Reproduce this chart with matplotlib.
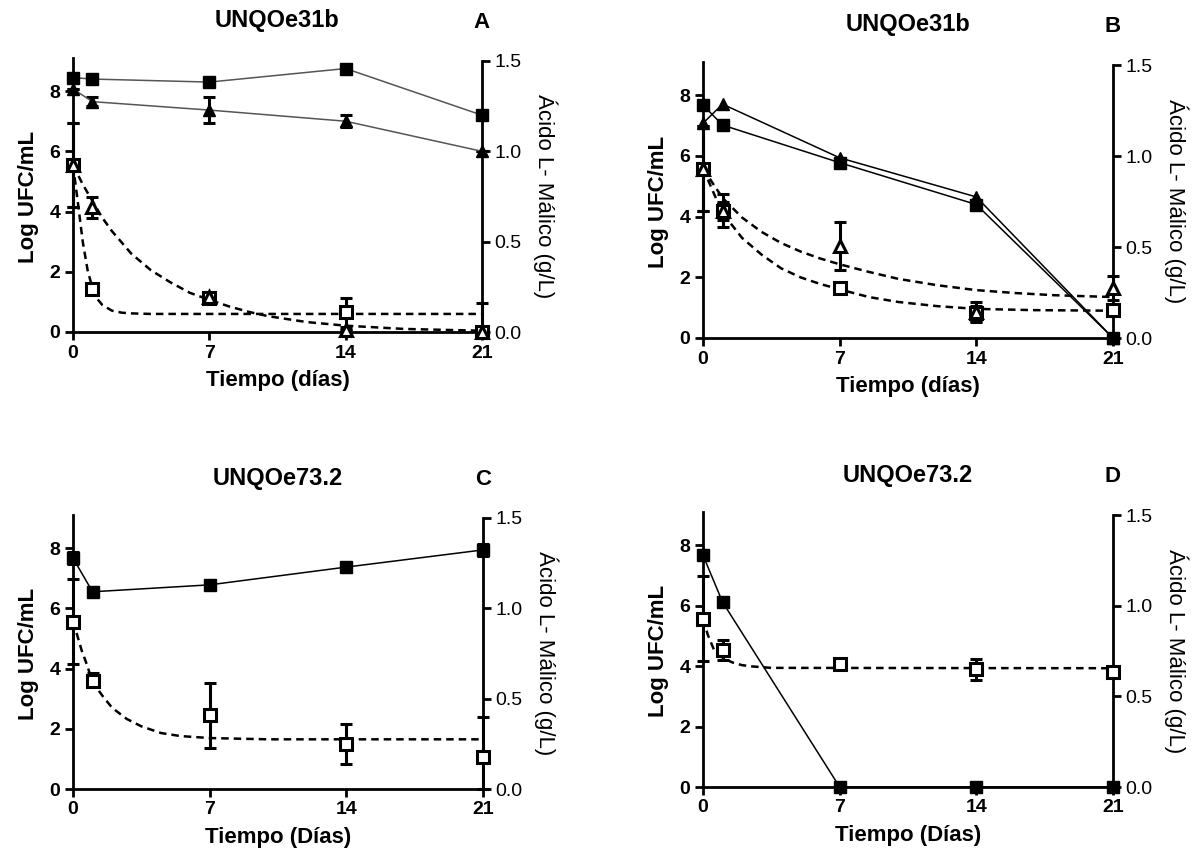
import matplotlib
matplotlib.use("Agg")
import matplotlib.pyplot as plt

plt.rcParams['font.family'] = ['Liberation Sans', 'DejaVu Sans']

days = [0, 1, 7, 14, 21]

# Panel A (UNQOe31b) - filled: Log UFC/mL, open: acido L-malico (g/L)
a_sq_ufc = [8.45, 8.4, 8.3, 8.75, 7.2]
a_sq_ufc_err = [0, 0, 0, 0.12, 0]
a_tri_ufc = [8.07, 7.65, 7.37, 7.0, 6.0]
a_tri_ufc_err = [0, 0.15, 0.42, 0.2, 0]
a_sq_mal = [0.925, 0.24, 0.19, 0.11, 0.0]
a_sq_mal_lo = [0.233, 0, 0.01, 0.08, 0]
a_sq_mal_hi = [0.233, 0, 0.01, 0.08, 0.16]
a_tri_mal = [0.925, 0.69, 0.196, 0.012, 0.0]
a_tri_mal_err = [0.233, 0.06, 0.01, 0, 0]
a_fit_sq_t = [0, 0.25, 0.5, 0.75, 1, 1.25, 1.5, 2, 2.5, 3, 4, 21]
a_fit_sq = [0.925, 0.717, 0.5, 0.342, 0.242, 0.183, 0.15, 0.118, 0.107, 0.103, 0.1, 0.1]
a_fit_tri_t = [0, 0.5, 1, 1.5, 2, 3, 4, 5, 6, 7, 8, 9, 10, 12, 14, 17, 21]
a_fit_tri = [0.925, 0.817, 0.725, 0.633, 0.558, 0.433, 0.342, 0.275, 0.217, 0.178,
             0.142, 0.112, 0.088, 0.055, 0.035, 0.017, 0.007]

# Panel B (UNQOe31b)
b_sq_ufc = [7.68, 7.02, 5.78, 4.4, 0.0]
b_tri_ufc = [7.08, 7.71, 5.94, 4.65, 0.0]
b_sq_mal = [0.93, 0.70, 0.275, 0.135, 0.152]
b_sq_mal_err = [0.233, 0.05, 0, 0.04, 0.02]
b_tri_mal = [0.93, 0.70, 0.505, 0.145, 0.275]
b_tri_mal_err = [0.233, 0.092, 0.13, 0.055, 0.068]
b_fit_tri_t = [0, 0.5, 1, 2, 3, 4, 5, 6, 7, 8.5, 10, 12, 14, 16, 18, 21]
b_fit_tri = [0.933, 0.85, 0.77, 0.662, 0.583, 0.522, 0.475, 0.437, 0.405, 0.363,
             0.325, 0.29, 0.263, 0.247, 0.235, 0.225]
b_fit_sq_t = [0, 0.5, 1, 2, 3, 4, 5, 6, 7, 8.5, 10, 12, 14, 17, 21]
b_fit_sq = [0.933, 0.808, 0.687, 0.55, 0.458, 0.383, 0.333, 0.297, 0.267, 0.225,
            0.198, 0.175, 0.16, 0.153, 0.15]

# Panel C (UNQOe73.2)
c_sq_ufc = [7.67, 6.55, 6.78, 7.37, 7.94]
c_sq_ufc_err = [0.2, 0.15, 0.15, 0.15, 0.2]
c_sq_mal = [0.927, 0.6, 0.407, 0.248, 0.178]
c_sq_mal_lo = [0.233, 0.03, 0.178, 0.11, 0.178]
c_sq_mal_hi = [0.233, 0.04, 0.178, 0.11, 0.222]
c_fit_t = [0, 0.2, 0.45, 0.7, 1, 1.5, 2, 2.75, 3.5, 4.5, 5.5, 7, 10, 21]
c_fit = [0.93, 0.857, 0.765, 0.692, 0.593, 0.517, 0.45, 0.388, 0.347, 0.31,
         0.293, 0.282, 0.275, 0.275]

# Panel D (UNQOe73.2)
d_sq_ufc = [7.67, 6.12, 0.0, 0.0, 0.0]
d_sq_mal = [0.928, 0.753, 0.677, 0.648, 0.632]
d_sq_mal_err = [0.233, 0.055, 0.02, 0.058, 0.01]
d_fit_t = [0, 0.25, 0.6, 1, 1.5, 2, 2.5, 3.5, 21]
d_fit = [0.928, 0.838, 0.747, 0.713, 0.687, 0.672, 0.665, 0.657, 0.655]

titles = ['UNQOe31b', 'UNQOe31b', 'UNQOe73.2', 'UNQOe73.2']
letters = ['A', 'B', 'C', 'D']
xlabels = ['Tiempo (días)', 'Tiempo (días)', 'Tiempo (Días)', 'Tiempo (Días)']

W, H = 1203, 856
fig = plt.figure(figsize=(W / 100, H / 100), dpi=100)

# axes boxes in pixels: left, right, top, bottom
boxes = [(73, 482, 61, 332), (703, 1113, 65, 338),
         (73, 483, 518, 789), (703, 1113, 515, 787)]


def make_axes(box, title, letter, xlabel):
    l, r, t, b = box
    ax = fig.add_axes([l / W, 1 - b / H, (r - l) / W, (b - t) / H])
    ax2 = ax.twinx()
    ax.set_xlim(0, 21)
    ax.set_ylim(0, 9)
    ax2.set_ylim(0, 1.5)
    ax.set_xticks([0, 7, 14, 21])
    ax.set_yticks([0, 2, 4, 6, 8])
    ax2.set_yticks([0, 0.5, 1.0, 1.5])
    ax2.set_yticklabels(['0.0', '0.5', '1.0', '1.5'])
    for s in ['top', 'right']:
        ax.spines[s].set_visible(False)
    for s in ['top', 'left', 'bottom']:
        ax2.spines[s].set_visible(False)
    ax.spines['left'].set_linewidth(2)
    ax.spines['bottom'].set_linewidth(2)
    ax2.spines['right'].set_linewidth(2)
    ax.spines['left'].set_bounds(0, 9.1)
    ax.tick_params(width=2, length=6, direction='out', labelsize=14, pad=3)
    ax2.tick_params(width=2, length=6, direction='out', labelsize=14, pad=3)
    for lab in ax.get_xticklabels() + ax.get_yticklabels():
        lab.set_fontweight('bold')
    ax.set_ylabel('Log UFC/mL', fontsize=16, fontweight='bold', labelpad=8)
    ax.set_xlabel(xlabel, fontsize=16, fontweight='bold', labelpad=6)
    ax2.set_ylabel('Ácido L- Málico (g/L)', fontsize=16, rotation=-90,
                   va='bottom', labelpad=8)
    fig.text((l + r) / 2 / W, 1 - (t - 40) / H, title, ha='center', va='center',
             fontsize=17, fontweight='bold')
    fig.text(r / W, 1 - (t - 38) / H, letter, ha='center', va='center',
             fontsize=16, fontweight='bold')
    return ax, ax2


def filled(ax, y, marker, err=None, color='black'):
    ax.errorbar(days, y, yerr=err, fmt='-', marker=marker, color=color, lw=1.1,
                ms=8, mfc='black', mec='black', ecolor='black', elinewidth=2.2,
                capsize=4, capthick=2.2, clip_on=False, zorder=4)


def opened(ax, y, marker, err):
    ax.errorbar(days, y, yerr=err, fmt='none', ecolor='black', elinewidth=2.2,
                capsize=4, capthick=2.2, clip_on=False, zorder=5)
    ax.plot(days, y, linestyle='none', marker=marker, ms=8, mfc='white',
            mec='black', mew=2.2, clip_on=False, zorder=6)


def fit(ax, t, y):
    ax.plot(t, y, color='black', lw=1.8, dashes=(3, 2), zorder=3, clip_on=False)


axA, axA2 = make_axes(boxes[0], titles[0], letters[0], xlabels[0])
filled(axA, a_sq_ufc, 's', a_sq_ufc_err, color='#555555')
filled(axA, a_tri_ufc, '^', a_tri_ufc_err, color='#555555')
fit(axA2, a_fit_sq_t, a_fit_sq)
fit(axA2, a_fit_tri_t, a_fit_tri)
opened(axA2, a_sq_mal, 's', [a_sq_mal_lo, a_sq_mal_hi])
opened(axA2, a_tri_mal, '^', a_tri_mal_err)

axB, axB2 = make_axes(boxes[1], titles[1], letters[1], xlabels[1])
filled(axB, b_sq_ufc, 's')
filled(axB, b_tri_ufc, '^')
fit(axB2, b_fit_tri_t, b_fit_tri)
fit(axB2, b_fit_sq_t, b_fit_sq)
opened(axB2, b_sq_mal, 's', b_sq_mal_err)
opened(axB2, b_tri_mal, '^', b_tri_mal_err)

axC, axC2 = make_axes(boxes[2], titles[2], letters[2], xlabels[2])
filled(axC, c_sq_ufc, 's', c_sq_ufc_err)
fit(axC2, c_fit_t, c_fit)
opened(axC2, c_sq_mal, 's', [c_sq_mal_lo, c_sq_mal_hi])

axD, axD2 = make_axes(boxes[3], titles[3], letters[3], xlabels[3])
filled(axD, d_sq_ufc, 's')
fit(axD2, d_fit_t, d_fit)
opened(axD2, d_sq_mal, 's', d_sq_mal_err)

fig.savefig('out.png', dpi=100)
